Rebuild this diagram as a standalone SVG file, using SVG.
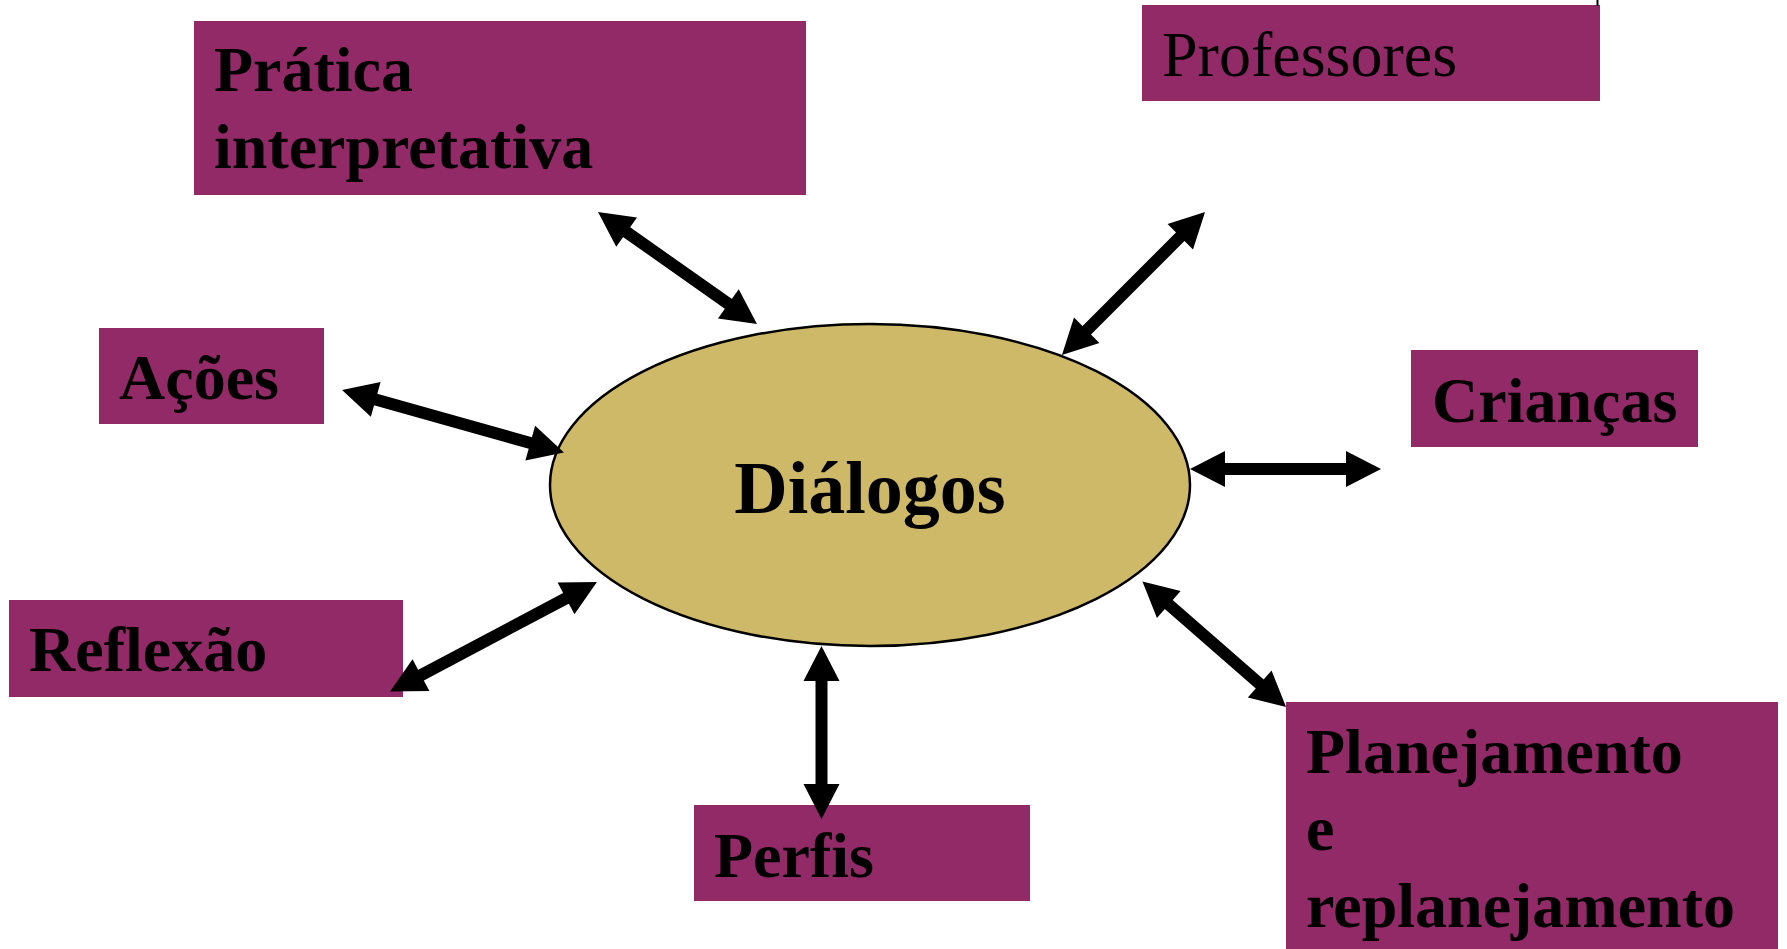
<svg xmlns="http://www.w3.org/2000/svg" width="1787" height="949" viewBox="0 0 1787 949">
<style>
.box{fill:#932A68}
.t{font-family:"Liberation Serif","Times New Roman",serif;font-size:64px;font-weight:bold;fill:#000}
.r{font-weight:normal}
.c{stroke:#000;stroke-width:12;fill:none;marker-start:url(#ah);marker-end:url(#ah)}
</style>
<defs>
<marker id="ah" markerUnits="userSpaceOnUse" markerWidth="36" markerHeight="36" refX="2" refY="18" orient="auto-start-reverse" overflow="visible">
<path d="M0,0 L35,18 L0,36 Z" fill="#000"/>
</marker>
</defs>
<rect width="1787" height="949" fill="#fff"/>
<g id="center">
<ellipse cx="870" cy="485" rx="320" ry="161" fill="#CDB968" stroke="#000" stroke-width="2.5"/>
<text class="t" x="870" y="513" text-anchor="middle" style="font-size:74px">Diálogos</text>
</g>
<g id="pratica">
<rect class="box" x="194" y="21" width="612" height="174"/>
<text class="t" x="214" y="91">Prática</text>
<text class="t" x="214" y="168">interpretativa</text>
</g>
<g id="professores">
<rect class="box" x="1142" y="5" width="458" height="96"/>
<text class="t r" x="1162" y="76">Professores</text>
<line x1="1597.5" y1="0" x2="1597.5" y2="6" stroke="#000" stroke-width="2"/>
</g>
<g id="acoes">
<rect class="box" x="99" y="328" width="225" height="96"/>
<text class="t" x="119" y="399">Ações</text>
</g>
<g id="criancas">
<rect class="box" x="1411" y="350" width="287" height="97"/>
<text class="t" x="1432" y="422">Crianças</text>
</g>
<g id="reflexao">
<rect class="box" x="9" y="600" width="394" height="97"/>
<text class="t" x="29" y="671">Reflexão</text>
</g>
<g id="perfis">
<rect class="box" x="694" y="805" width="336" height="96"/>
<text class="t" x="714" y="877">Perfis</text>
</g>
<g id="planejamento">
<rect class="box" x="1286" y="702" width="492" height="247"/>
<text class="t" x="1306" y="773">Planejamento</text>
<text class="t" x="1306" y="850">e</text>
<text class="t" x="1306" y="927">replanejamento</text>
</g>
<g id="connectors">
<line class="c" x1="625" y1="231" x2="730" y2="305"/>
<line class="c" x1="1181.7" y1="235.3" x2="1085.3" y2="331.7"/>
<line class="c" x1="373.8" y1="398.9" x2="532.2" y2="443.6"/>
<line class="c" x1="419.2" y1="676.1" x2="567.8" y2="597.4"/>
<line class="c" x1="1223" y1="469" x2="1348" y2="469"/>
<line class="c" x1="1167.3" y1="603.2" x2="1261.2" y2="685.3"/>
<line class="c" x1="821.5" y1="679" x2="821.5" y2="786"/>
</g>
</svg>
